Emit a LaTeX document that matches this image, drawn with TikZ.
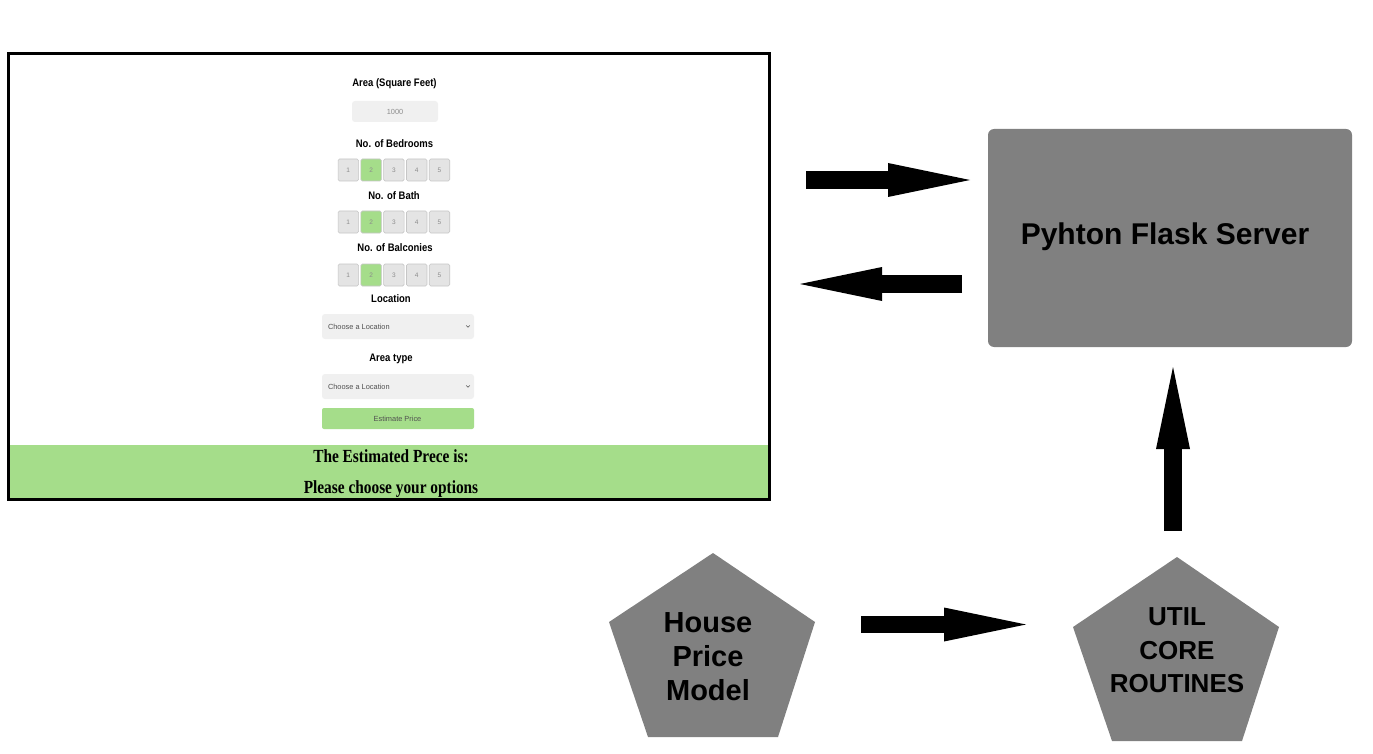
\documentclass[tikz,border=0pt]{standalone}
\usepackage{fontspec}
\setmainfont{Liberation Sans}
\newfontfamily\formfont[FakeStretch=0.87]{Liberation Sans}
\newfontfamily\bandfont[FakeStretch=0.83]{Liberation Serif}
\usetikzlibrary{arrows.meta}
\definecolor{boxgray}{RGB}{128,128,128}
\definecolor{formgreen}{RGB}{165,221,138}
\definecolor{btngray}{RGB}{228,228,228}
\definecolor{btnedge}{RGB}{198,198,198}
\definecolor{fieldgray}{RGB}{240,240,240}
\definecolor{digitgray}{RGB}{140,140,140}
\definecolor{seltext}{RGB}{80,80,80}
\begin{document}
\begin{tikzpicture}[x=1pt,y=-1pt,
  formlabel/.style={font=\formfont\bfseries\fontsize{10.9}{12}\selectfont, inner sep=0pt},
  btn/.style={draw=btnedge, line width=0.6pt, fill=btngray, rounded corners=1.5pt,
    minimum width=20.5pt, minimum height=22pt, inner sep=0pt,
    font=\fontsize{6.5}{7}\selectfont, text=digitgray},
  btnon/.style={btn, fill=formgreen},
  field/.style={fill=fieldgray, rounded corners=3pt, inner sep=0pt},
  smalltxt/.style={font=\fontsize{7.4}{8}\selectfont, inner sep=0pt, text=seltext},
  bandtxt/.style={font=\bandfont\bfseries\fontsize{18.5}{20}\selectfont, inner sep=0pt},
  fat/.style={line width=18pt, -{Triangle[length=82pt 0 0, width=34pt 0 0, line width=0pt 0 0]}},
  pentatxt/.style={align=center, inner sep=0pt}
]
\useasboundingbox (0,0) rectangle (1373,754);

% ---------- screenshot of the form ----------
\fill[white] (8,54) rectangle (769.5,499.5);
\fill[formgreen] (8,445) rectangle (769.5,499.5);
\draw[line width=3pt] (8,54) rectangle (769.5,499.5);

\node[formlabel] (lArea) at (394.5,84) {Area (Square Feet)};
\node[field, minimum width=86pt, minimum height=21pt] (areain) at (395,111.5) {};
\node[smalltxt, text=digitgray] (areaval) at (395,111.5) {1000};

\node[formlabel] (lBed) at (394.5,144) {No. of Bedrooms};
\node[formlabel] (lBath) at (394,196) {No. of Bath};
\node[formlabel] (lBalc) at (395,248) {No. of Balconies};

\foreach \r/\yy in {bed/170, bath/222, balc/275}{
  \foreach \i/\st in {1/btn,2/btnon,3/btn,4/btn,5/btn}{
    \node[\st] (\r\i) at ({348.3+22.8*(\i-1)},\yy) {\i};
  }
}

\node[formlabel] (lLoc) at (391,299) {Location};
\node[field, minimum width=152pt, minimum height=25pt] (locsel) at (398,326.5) {};
\node[smalltxt, anchor=west] (loctxt) at ([xshift=6pt]locsel.west) {Choose a Location};
\draw[line width=0.6pt, seltext] ([xshift=-8pt,yshift=1pt]locsel.east) -- ++(1.8,1.8) -- ++(1.8,-1.8);

\node[formlabel] (lType) at (391,359) {Area type};
\node[field, minimum width=152pt, minimum height=25pt] (typesel) at (398,386.5) {};
\node[smalltxt, anchor=west] (typetxt) at ([xshift=6pt]typesel.west) {Choose a Location};
\draw[line width=0.6pt, seltext] ([xshift=-8pt,yshift=1pt]typesel.east) -- ++(1.8,1.8) -- ++(1.8,-1.8);

\node[fill=formgreen, rounded corners=2pt, minimum width=152pt, minimum height=21pt, inner sep=0pt] (estbtn) at (398,418.5) {};
\node[smalltxt] (esttxt) at (397.5,418.5) {Estimate Price};

\node[bandtxt] (estline) at (391,456) {The Estimated Prece is:};
\node[bandtxt] (optline) at (391,489.5) {Please choose your options};

% ---------- server ----------
\node[fill=boxgray, rounded corners=6pt, minimum width=364pt, minimum height=218pt, inner sep=0pt] (server) at (1170,238) {};
\node[font=\bfseries\fontsize{30}{36}\selectfont, inner sep=0pt] (servertxt) at (1165,236.5) {Pyhton Flask Server};

% ---------- pentagons ----------
\fill[boxgray] (713,553) -- (815,622) -- (778,737) -- (648,737) -- (609,622) -- cycle;
\node[pentatxt, font=\bfseries\fontsize{29}{34}\selectfont] (house) at (708,656.5) {House\\Price\\Model};

\fill[boxgray] (1177,557) -- (1279,627) -- (1242,741) -- (1112,741) -- (1073,627) -- cycle;
\node[pentatxt, font=\bfseries\fontsize{26}{33.5}\selectfont] (util) at (1177,650.5) {UTIL\\CORE\\ROUTINES};

% ---------- block arrows ----------
\coordinate (a1s) at (806,180);  \coordinate (a1e) at (970,180);
\coordinate (a2s) at (962,284);  \coordinate (a2e) at (800,284);
\coordinate (a3s) at (861,624.5); \coordinate (a3e) at (1026,624.5);
\coordinate (a4s) at (1173,531); \coordinate (a4e) at (1173,367);
\draw[fat] (a1s) -- (a1e);
\draw[fat] (a2s) -- (a2e);
\draw[fat, line width=17pt] (a3s) -- (a3e);
\draw[fat] (a4s) -- (a4e);
\end{tikzpicture}
\end{document}
